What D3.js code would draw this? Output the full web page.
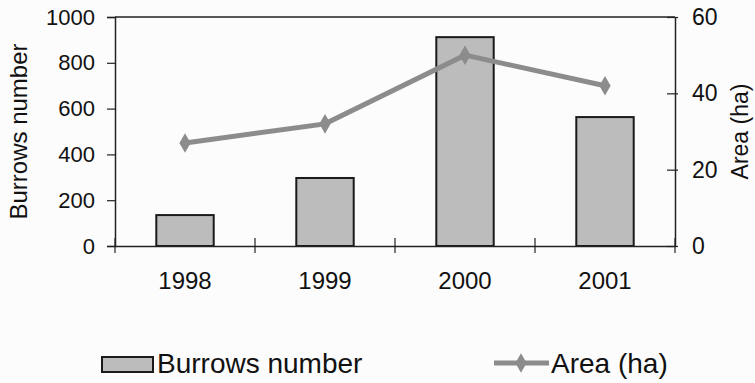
<!DOCTYPE html>
<html>
<head>
<meta charset="utf-8">
<script src="https://cdn.jsdelivr.net/npm/d3@7"></script>
<style>
  body { margin: 0; background: #fcfcfc; }
  text { font-family: Arial, "Liberation Sans", sans-serif; fill: #111; }
</style>
</head>
<body>
<script>
// data
var years = ["1998", "1999", "2000", "2001"];
var burrows = [135, 297, 912, 563];
var area = [27, 32, 50, 42];
var leftTicks = [0, 200, 400, 600, 800, 1000];
var rightTicks = [0, 20, 40, 60];

var width = 755, height = 383;
var margin = {top: 17, right: 80, bottom: 137, left: 115};
var w = width - margin.left - margin.right;
var h = height - margin.top - margin.bottom;

var svg = d3.select("body").append("svg")
    .attr("width", width)
    .attr("height", height);

var g = svg.append("g")
    .attr("transform", "translate(" + margin.left + "," + margin.top + ")");

var x = d3.scaleBand().domain(years).range([0, w]).paddingInner(0.59).paddingOuter(0.295);
var yL = d3.scaleLinear().domain([0, 1000]).range([h, 0]);
var yR = d3.scaleLinear().domain([0, 60]).range([h, 0]);

// frame top
g.append("line")
    .attr("x1", 0).attr("x2", w).attr("y1", 0).attr("y2", 0)
    .attr("stroke", "#222").attr("stroke-width", 1.5);

// bars
g.selectAll("rect.bar").data(years).enter()
    .append("rect")
        .attr("class", "bar")
        .attr("x", d => x(d))
        .attr("y", (d, i) => yL(burrows[i]))
        .attr("width", x.bandwidth())
        .attr("height", (d, i) => h - yL(burrows[i]))
        .attr("fill", "#bcbcbc")
        .attr("stroke", "#1a1a1a")
        .attr("stroke-width", 2);

// axes
var leftAxis = d3.axisLeft(yL).tickValues(leftTicks).tickFormat(d3.format("d")).tickSize(8).tickPadding(12);
var gl = g.append("g").call(leftAxis);
gl.selectAll("text").attr("font-size", "22px");

var rightAxis = d3.axisRight(yR).tickValues(rightTicks).tickSize(0).tickPadding(17);
var gr = g.append("g").attr("transform", "translate(" + w + ",0)").call(rightAxis);
gr.selectAll("text").attr("font-size", "23px");
gr.selectAll(".tick line").attr("x1", -8).attr("x2", 3);

var bottomAxis = d3.axisBottom(x).tickSize(0).tickPadding(26);
var gb = g.append("g").attr("transform", "translate(0," + h + ")").call(bottomAxis);
gb.selectAll("text").attr("font-size", "24px");
// category boundary ticks
var bounds = d3.range(years.length + 1).map(i => i * x.step());
gb.selectAll("line.bound").data(bounds).enter()
    .append("line")
        .attr("class", "bound")
        .attr("x1", d => d).attr("x2", d => d)
        .attr("y1", -8).attr("y2", 7)
        .attr("stroke", "#222").attr("stroke-width", 1.2);

[gl, gr, gb].forEach(a => {
    a.select(".domain").attr("stroke", "#222").attr("stroke-width", 1.5);
    a.selectAll(".tick line").attr("stroke", "#222").attr("stroke-width", 1.2);
    a.selectAll("text").attr("fill", "#111").attr("font-family", "Arial, 'Liberation Sans', sans-serif");
});

// area line
var line = d3.line()
    .x((d, i) => x(years[i]) + x.bandwidth() / 2)
    .y(d => yR(d));

g.append("path")
    .datum(area)
    .attr("d", line)
    .attr("fill", "none")
    .attr("stroke", "#8c8c8c")
    .attr("stroke-width", 5);

var diamond = d3.symbol().type(d3.symbolDiamond).size(110);
g.selectAll("path.pt").data(area).enter()
    .append("path")
        .attr("class", "pt")
        .attr("d", diamond)
        .attr("transform", (d, i) => "translate(" + (x(years[i]) + x.bandwidth() / 2) + "," + yR(d) + ")")
        .attr("fill", "#8c8c8c");

// axis titles
svg.append("text")
    .attr("transform", "translate(27," + (margin.top + h / 2) + ") rotate(-90)")
    .attr("text-anchor", "middle")
    .attr("font-size", "24px")
    .text("Burrows number");

svg.append("text")
    .attr("transform", "translate(748," + (margin.top + h / 2) + ") rotate(-90)")
    .attr("text-anchor", "middle")
    .attr("font-size", "23px")
    .text("Area (ha)");

// legend
var lg = svg.append("g");
lg.append("rect")
    .attr("x", 102).attr("y", 357).attr("width", 51).attr("height", 15)
    .attr("fill", "#bcbcbc").attr("stroke", "#1a1a1a").attr("stroke-width", 2);
lg.append("text")
    .attr("x", 157).attr("y", 373)
    .attr("font-size", "28px")
    .text("Burrows number");

lg.append("line")
    .attr("x1", 494).attr("x2", 549).attr("y1", 363).attr("y2", 363)
    .attr("stroke", "#8c8c8c").attr("stroke-width", 5);
lg.append("path")
    .attr("d", diamond)
    .attr("transform", "translate(521,363)")
    .attr("fill", "#8c8c8c");
lg.append("text")
    .attr("x", 551).attr("y", 373)
    .attr("font-size", "28px")
    .text("Area (ha)");
</script>
</body>
</html>
